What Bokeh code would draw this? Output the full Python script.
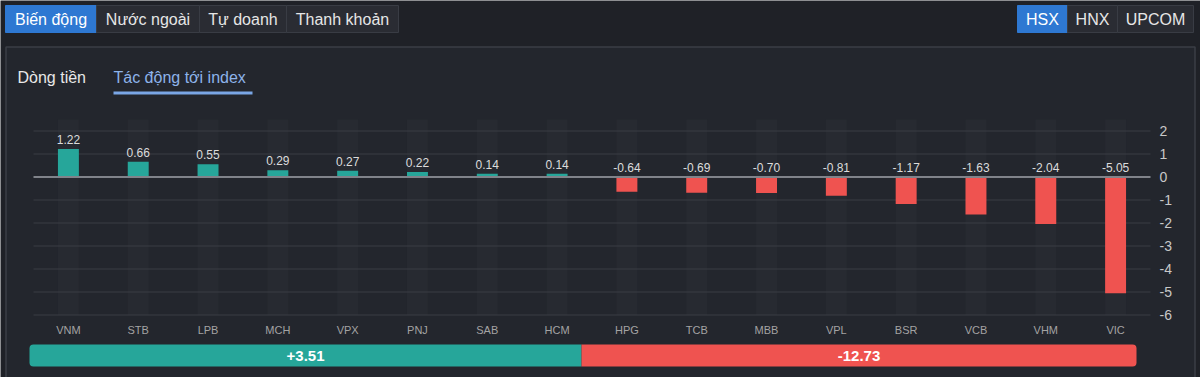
from bokeh.plotting import figure
from bokeh.models import Range1d
from bokeh.core.properties import value
from bokeh.embed import file_html
from bokeh.resources import INLINE

# ---------------- data ----------------
tickers = ["VNM", "STB", "LPB", "MCH", "VPX", "PNJ", "SAB", "HCM",
           "HPG", "TCB", "MBB", "VPL", "BSR", "VCB", "VHM", "VIC"]
impact = [1.22, 0.66, 0.55, 0.29, 0.27, 0.22, 0.14, 0.14,
          -0.64, -0.69, -0.70, -0.81, -1.17, -1.63, -2.04, -5.05]
y_ticks = [2, 1, 0, -1, -2, -3, -4, -5, -6]
total_up = 3.51
total_down = -12.73
top_tabs = ["Biến động", "Nước ngoài", "Tự doanh", "Thanh khoản"]
exchanges = ["HSX", "HNX", "UPCOM"]
sub_tabs = ["Dòng tiền", "Tác động tới index"]

# ---------------- style ----------------
FONT = value("Liberation Sans")
OUTER = "#1f2127"
PANEL = "#23262d"
BTN = "#2a2c33"
BTN_LINE = "#393c44"
BLUE = "#2e78d2"
GREEN = "#26a69a"
RED = "#ef5350"
W, H = 1200, 377

# chart geometry (pixels)
CX0, CX1 = 33.0, 1150.0          # category band span
ZERO_Y, UNIT = 176.5, 23.0        # y pixel of 0 and px per unit
n = len(tickers)
band = (CX1 - CX0) / n

p = figure(width=W, height=H, x_range=Range1d(0, W), y_range=Range1d(H, 0),
           output_backend="svg", toolbar_location=None, min_border=0,
           x_axis_location=None, y_axis_location=None,
           background_fill_color=OUTER, border_fill_color=OUTER,
           outline_line_color=None)
p.grid.visible = False

p.extra_x_ranges = {"cx": Range1d(-CX0 / band, (W - CX0) / band)}
p.extra_y_ranges = {"vy": Range1d((ZERO_Y - H) / UNIT, ZERO_Y / UNIT)}

# ---------------- chrome ----------------
# top tabs
tab_edges = [5, 96, 199, 286, 398]
for i, t in enumerate(top_tabs):
    l, r = tab_edges[i], tab_edges[i + 1]
    p.quad(left=l, right=r, top=5, bottom=32,
           fill_color=BLUE if i == 0 else BTN,
           line_color=BLUE if i == 0 else BTN_LINE, line_width=1)
    p.text(x=[(l + r) / 2], y=[18.5], text=[t], text_align="center",
           text_baseline="middle", text_font=FONT, text_font_size="16px",
           text_color="#ffffff" if i == 0 else "#e6e6e6")

ex_edges = [1017, 1067, 1117, 1193]
for i, t in enumerate(exchanges):
    l, r = ex_edges[i], ex_edges[i + 1]
    p.quad(left=l, right=r, top=5, bottom=32,
           fill_color=BLUE if i == 0 else BTN,
           line_color=BLUE if i == 0 else BTN_LINE, line_width=1)
    p.text(x=[(l + r) / 2], y=[18.5], text=[t], text_align="center",
           text_baseline="middle", text_font=FONT, text_font_size="16px",
           text_color="#ffffff" if i == 0 else "#e6e6e6")

# panel
p.quad(left=5.5, right=1194.5, top=46.5, bottom=390, fill_color=PANEL,
       line_color="#3b3e46", line_width=1.5)

# sub tabs
p.text(x=[17], y=[77], text=[sub_tabs[0]], text_align="left",
       text_baseline="middle", text_font=FONT, text_font_size="16px",
       text_color="#e8e8e8")
p.text(x=[113], y=[77], text=[sub_tabs[1]], text_align="left",
       text_baseline="middle", text_font=FONT, text_font_size="16px",
       text_color="#8db3ea")
p.quad(left=113, right=252, top=91, bottom=94, fill_color="#7aa6e6",
       line_color=None)

# ---------------- chart ----------------
xs = [i + 0.5 for i in range(n)]
colors = [GREEN if v >= 0 else RED for v in impact]

# background column stripes
p.vbar(x=xs, top=2.5, bottom=-6, width=0.3, fill_color="#272a31",
       line_color=None, x_range_name="cx", y_range_name="vy")

# grid lines
grid_y = [t for t in y_ticks if t != 0]
p.segment(x0=[0] * len(grid_y), x1=[n] * len(grid_y), y0=grid_y, y1=grid_y,
          line_color="#3a3d45", line_width=1.2,
          x_range_name="cx", y_range_name="vy")

# bars
p.vbar(x=xs, top=impact, bottom=0, width=0.3, fill_color=colors,
       line_color=None, x_range_name="cx", y_range_name="vy")

# zero line
p.segment(x0=[0], x1=[n], y0=[0], y1=[0], line_color="#80838a",
          line_width=2, x_range_name="cx", y_range_name="vy")

# value labels
p.text(x=xs, y=[max(v, 0) for v in impact], text=[f"{v:.2f}" for v in impact],
       text_align="center", text_baseline="bottom", y_offset=-5,
       text_font=FONT, text_font_size="12px", text_color="#dcdcdc",
       x_range_name="cx", y_range_name="vy")

# y tick labels (right side)
p.text(x=[n] * len(y_ticks), y=y_ticks, text=[str(t) for t in y_ticks],
       x_offset=9, text_align="left", text_baseline="middle",
       text_font=FONT, text_font_size="14px", text_color="#c8c8c8",
       x_range_name="cx", y_range_name="vy")

# x category labels
p.text(x=xs, y=[min(y_ticks)] * n, text=tickers, y_offset=15,
       text_align="center", text_baseline="middle",
       text_font=FONT, text_font_size="11px", text_color="#a3a3a3",
       x_range_name="cx", y_range_name="vy")

# ---------------- totals bar ----------------
BL, BR, BM = 29, 1136, 581
p.quad(left=BL, right=BM, top=344, bottom=366, fill_color=GREEN,
       line_color=None, border_radius=(4, 0, 0, 4))
p.quad(left=BM, right=BR, top=344, bottom=366, fill_color=RED,
       line_color=None, border_radius=(0, 4, 4, 0))
p.text(x=[(BL + BM) / 2, (BM + BR) / 2], y=[355, 355],
       text=[f"+{total_up:.2f}", f"{total_down:.2f}"],
       text_align="center", text_baseline="middle", text_font=FONT,
       text_font_size="15px", text_font_style="bold", text_color="#ffffff")

open("out.html", "w").write(file_html(p, INLINE))
